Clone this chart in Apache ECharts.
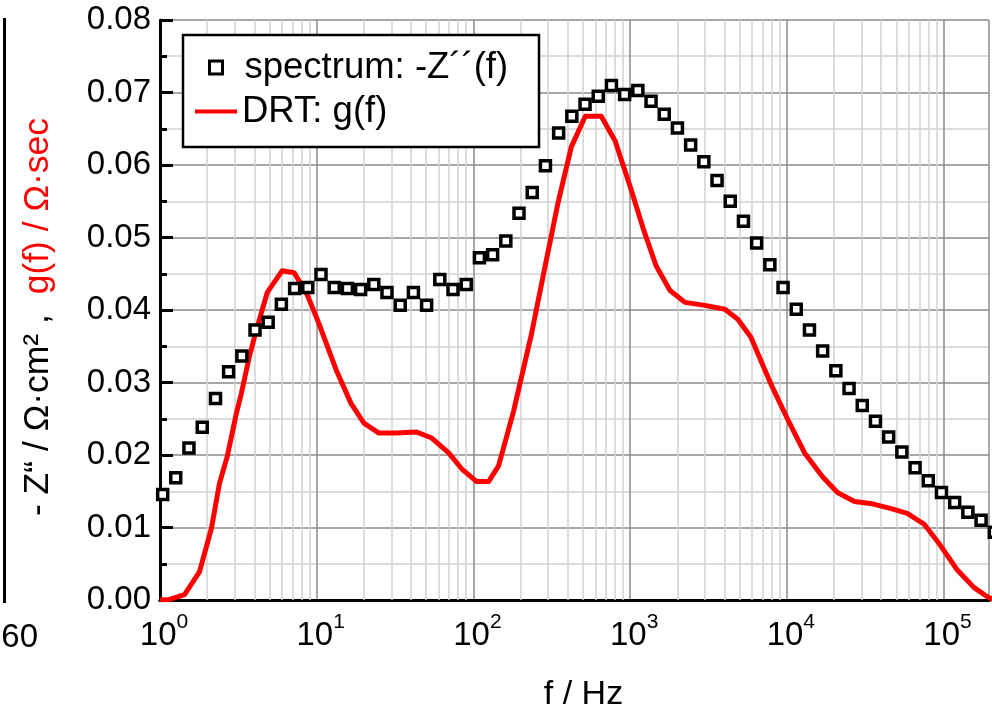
<!DOCTYPE html>
<html>
<head>
<meta charset="utf-8">
<script src="https://cdn.jsdelivr.net/npm/echarts@6/dist/echarts.min.js"></script>
<style>
  html, body { margin: 0; padding: 0; background: #ffffff; }
  #chart { width: 992px; height: 717px; }
</style>
</head>
<body>
<div id="chart"></div>
<script>
// Impedance spectrum: frequency (Hz) and -Z'' (Ohm cm^2)
const spectrumFreq = [1.04, 1.26, 1.53, 1.86, 2.26, 2.74, 3.33, 4.04, 4.90, 5.95, 7.23, 8.77,
  10.65, 12.93, 15.70, 19.06, 23.14, 28.09, 34.11, 41.41, 50.27, 61.03, 74.09, 89.97,
  109.2, 132.6, 161.0, 195.4, 237.3, 288.1, 349.8, 424.6, 515.6, 626.0, 759.8, 922.4,
  1120, 1360, 1651, 2004, 2433, 2954, 3586, 4354, 5286, 6417, 7791, 9459,
  11484, 13942, 16926, 20550, 24946, 30287, 36769, 44637, 54200, 65800, 79890, 97000,
  117750, 142960, 173560, 210750];
const spectrumZ = [0.01455, 0.01687, 0.02097, 0.02384, 0.0278, 0.03149, 0.03367, 0.03723, 0.03832, 0.04078, 0.04296, 0.0431,
  0.04488, 0.0431, 0.04296, 0.04283, 0.04351, 0.04242, 0.04064, 0.04242, 0.04064, 0.04419, 0.04283, 0.04351,
  0.0472, 0.04761, 0.04952, 0.05335, 0.05622, 0.0599, 0.06441, 0.06673, 0.06837, 0.06947, 0.07097, 0.06974,
  0.07029, 0.06878, 0.06701, 0.0651, 0.06277, 0.06045, 0.05785, 0.05499, 0.05225, 0.04925, 0.04624, 0.0431,
  0.0401, 0.03723, 0.03436, 0.03163, 0.02917, 0.02684, 0.02466, 0.02247, 0.02042, 0.01824, 0.01646, 0.01482,
  0.01346, 0.01209, 0.011, 0.00936];

// Distribution of relaxation times g(f) (Ohm sec)
const drtFreq = [1.0, 1.151, 1.434, 1.786, 2.130, 2.394, 2.692, 3.071, 3.304, 3.715, 4.117, 4.836,
  6.025, 7.183, 8.689, 10.36, 13.29, 16.55, 20.02, 24.94, 32.00, 43.52, 54.22, 69.55,
  84.13, 104.8, 124.9, 144.7, 180.3, 234.6, 288.0, 348.3, 421.4, 517.2, 654.0, 802.8,
  1000, 1209, 1464, 1797, 2238, 3000, 4021, 4864, 5886, 7886, 10120, 12980,
  16890, 21050, 27000, 34130, 45740, 58670, 75250, 95150, 122000, 156600, 189400, 210000];
const drtG = [0, 0.00007, 0.00075, 0.00389, 0.0099, 0.01605, 0.01988, 0.02575, 0.02848, 0.03354, 0.03723, 0.04242,
  0.04542, 0.04515, 0.04214, 0.03805, 0.03176, 0.02712, 0.02439, 0.02302, 0.02302, 0.02316, 0.02234, 0.02029,
  0.0181, 0.01633, 0.01633, 0.01851, 0.02602, 0.03668, 0.04624, 0.05499, 0.0625, 0.06673, 0.06673, 0.06332,
  0.05703, 0.0513, 0.04611, 0.04269, 0.04105, 0.04064, 0.0401, 0.03873, 0.03627, 0.02985, 0.02493, 0.02029,
  0.01701, 0.01482, 0.01359, 0.01332, 0.01264, 0.01195, 0.01045, 0.00758, 0.00417, 0.00171, 0.00048, 0];

const seriesNames = ['spectrum: -Z\u00b4\u00b4(f)', 'DRT: g(f)'];
const xRange = [1, 195000];
const yRange = [0, 0.08];
const yStep = 0.01;

const FONT = 'Liberation Sans, Arial, Helvetica, sans-serif';

// minor log grid lines at 2..9 of every decade
const minorFreqs = [];
for (let d = 1; d <= 100000; d *= 10) {
  for (let m = 2; m <= 9; m++) {
    if (m * d < xRange[1]) minorFreqs.push(m * d);
  }
}

const chart = echarts.init(document.getElementById('chart'), null, { renderer: 'canvas' });

const option = {
  animation: false,
  backgroundColor: '#ffffff',
  textStyle: { fontFamily: FONT },
  grid: { left: 160, right: 0, top: 20, bottom: 111.5, containLabel: false },
  xAxis: [{
    type: 'log',
    logBase: 10,
    min: xRange[0],
    max: xRange[1],
    name: 'f / Hz',
    nameLocation: 'middle',
    nameGap: 78,
    nameTextStyle: { fontSize: 34, color: '#000', fontFamily: FONT, padding: [0, 0, 0, 18] },
    axisLine: { show: true, onZero: false, lineStyle: { color: '#000', width: 3 } },
    axisTick: { show: false },
    splitLine: { show: true, lineStyle: { color: '#8a8a8a', width: 1.5 } },
    axisLabel: {
      margin: 12,
      formatter: function (v) {
        const e = Math.round(Math.log10(v));
        if (Math.abs(v - Math.pow(10, e)) > 1e-6 * v) return '';
        return '{b|10}{s|' + e + '}';
      },
      rich: {
        b: { fontSize: 33, color: '#000', fontFamily: FONT, verticalAlign: 'bottom', lineHeight: 40, padding: [0, 0, 0, 8] },
        s: { fontSize: 21, color: '#000', fontFamily: FONT, verticalAlign: 'top', lineHeight: 24 }
      }
    }
  }, {
    // frame line along the top of the plot
    type: 'log',
    logBase: 10,
    min: xRange[0],
    max: xRange[1],
    position: 'top',
    axisLine: { show: true, lineStyle: { color: '#000', width: 3 } },
    axisTick: { show: false },
    axisLabel: { show: false },
    splitLine: { show: false }
  }],
  yAxis: {
    type: 'value',
    min: yRange[0],
    max: yRange[1],
    interval: yStep,
    name: '{k|- Z\u201c / \u03a9\u00b7cm\u00b2 ,  }{r|g(f) / \u03a9\u00b7sec}',
    nameLocation: 'middle',
    nameRotate: 90,
    nameGap: 104,
    nameTextStyle: {
      padding: [0, 14, 0, 0],
      rich: {
        k: { fontSize: 35.5, color: '#000', fontFamily: FONT },
        r: { fontSize: 35.5, color: '#ff0000', fontFamily: FONT }
      }
    },
    axisLine: { show: true, lineStyle: { color: '#000', width: 3 } },
    axisTick: { show: true, inside: true, length: 13, lineStyle: { color: '#000', width: 3 } },
    minorTick: { show: true, splitNumber: 2, length: 7, lineStyle: { color: '#000', width: 3 } },
    splitLine: { show: true, lineStyle: { color: '#8a8a8a', width: 1.5 } },
    minorSplitLine: { show: true, lineStyle: { color: '#d2d2d2', width: 1.5 } },
    axisLabel: {
      margin: 9,
      fontSize: 33,
      color: '#000',
      fontFamily: FONT,
      formatter: function (v) { return v.toFixed(2); }
    }
  },
  legend: [{
    data: [seriesNames[0]],
    left: 208,
    top: 49,
    padding: 0,
    itemWidth: 13,
    itemHeight: 13,
    icon: 'rect',
    z: 20,
    selectedMode: false,
    itemStyle: { color: '#ffffff', borderColor: '#000', borderWidth: 3 },
    textStyle: { fontSize: 36.5, color: '#000', fontFamily: FONT, padding: [0, 0, 0, 17] }
  }, {
    data: [{ name: seriesNames[1], icon: 'rect' }],
    left: 195,
    top: 93,
    padding: 0,
    itemWidth: 42,
    itemHeight: 4,
    z: 20,
    selectedMode: false,
    itemStyle: { color: '#ff0000', borderWidth: 0 },
    textStyle: { fontSize: 36.5, color: '#000', fontFamily: FONT }
  }],
  graphic: [
    {
      // legend frame
      type: 'rect',
      z: 10,
      shape: { x: 183, y: 35, width: 356, height: 112 },
      style: { fill: '#ffffff', stroke: '#000000', lineWidth: 2.5 }
    },
    {
      // edge of the neighbouring panel
      type: 'line',
      z: 10,
      shape: { x1: 4.5, y1: 18, x2: 4.5, y2: 603 },
      style: { stroke: '#000000', lineWidth: 3 }
    },
    {
      type: 'text',
      z: 10,
      style: { x: 38, y: 638, text: '60', align: 'right', verticalAlign: 'middle', fontSize: 33, fontFamily: FONT, fill: '#000' }
    }
  ],
  series: [{
    name: seriesNames[1],
    type: 'line',
    z: 3,
    data: drtFreq.map(function (f, i) { return [f, drtG[i]]; }),
    showSymbol: false,
    symbol: 'none',
    smooth: false,
    lineStyle: { color: '#ff0000', width: 5, join: 'round' },
    itemStyle: { color: '#ff0000' },
    markLine: {
      silent: true,
      symbol: 'none',
      z: 1,
      label: { show: false },
      emphasis: { disabled: true },
      lineStyle: { color: '#d2d2d2', width: 1.5, type: 'solid' },
      data: minorFreqs.map(function (f) { return { xAxis: f }; })
    }
  }, {
    name: seriesNames[0],
    type: 'scatter',
    z: 4,
    clip: false,
    symbol: 'rect',
    symbolSize: 10,
    data: spectrumFreq.map(function (f, i) { return [f, spectrumZ[i]]; }),
    itemStyle: { color: '#ffffff', borderColor: '#000000', borderWidth: 3.5, opacity: 1 }
  }]
};

chart.setOption(option);
</script>
</body>
</html>
